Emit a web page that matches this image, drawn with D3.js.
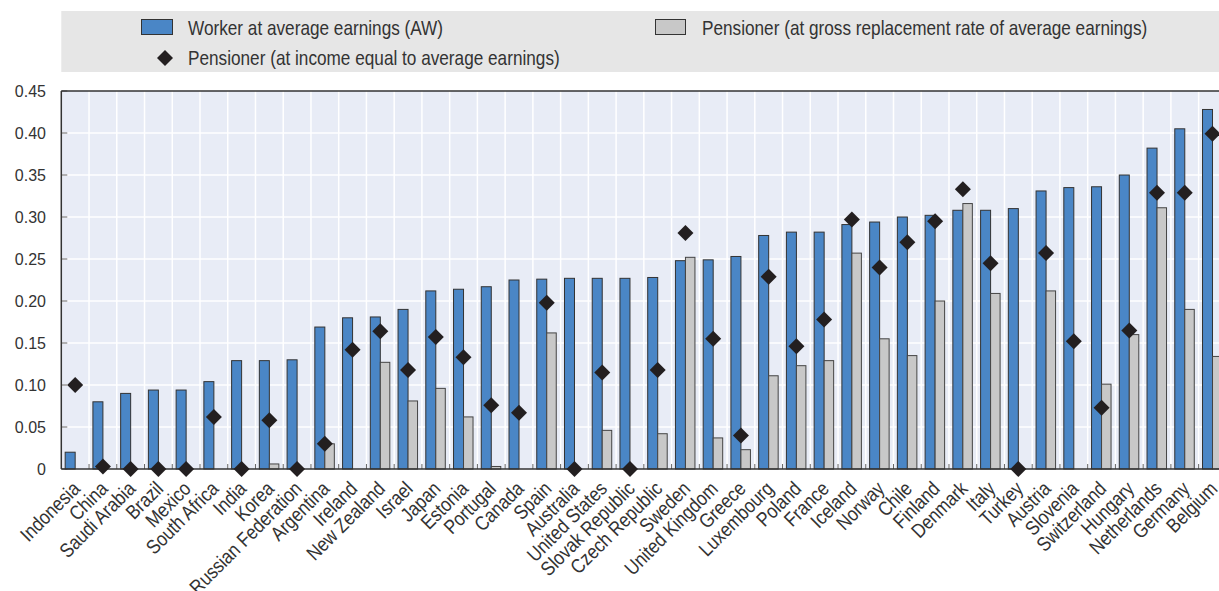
<!DOCTYPE html>
<html>
<head>
<meta charset="utf-8">
<script src="https://cdn.jsdelivr.net/npm/d3@7"></script>
<style>
  body { margin: 0; background: #fff; }
  svg text { fill: #333; }
</style>
</head>
<body>
<div class="chart"></div>
<script>
// chart data
var countries = ["Indonesia", "China", "Saudi Arabia", "Brazil", "Mexico", "South Africa", "India", "Korea",
  "Russian Federation", "Argentina", "Ireland", "New Zealand", "Israel", "Japan", "Estonia", "Portugal",
  "Canada", "Spain", "Australia", "United States", "Slovak Republic", "Czech Republic", "Sweden",
  "United Kingdom", "Greece", "Luxembourg", "Poland", "France", "Iceland", "Norway", "Chile", "Finland",
  "Denmark", "Italy", "Turkey", "Austria", "Slovenia", "Switzerland", "Hungary", "Netherlands", "Germany", "Belgium"];

var worker = [0.020, 0.080, 0.090, 0.094, 0.094, 0.104, 0.129, 0.129, 0.130, 0.169, 0.180, 0.181, 0.190,
  0.212, 0.214, 0.217, 0.225, 0.226, 0.227, 0.227, 0.227, 0.228, 0.248, 0.249, 0.253, 0.278, 0.282, 0.282,
  0.291, 0.294, 0.300, 0.302, 0.308, 0.308, 0.310, 0.331, 0.335, 0.336, 0.350, 0.382, 0.405, 0.428];

var pensionerGross = [0, 0, 0, 0, 0, 0, 0, 0.006, 0, 0.030, 0, 0.127, 0.081, 0.096, 0.062, 0.003, 0, 0.162,
  0, 0.046, 0, 0.042, 0.252, 0.037, 0.023, 0.111, 0.123, 0.129, 0.257, 0.155, 0.135, 0.200, 0.316, 0.209,
  0, 0.212, 0, 0.101, 0.160, 0.311, 0.190, 0.134];

var pensionerAW = [0.100, 0.003, 0, 0, 0, 0.062, 0, 0.058, 0, 0.030, 0.142, 0.164, 0.118, 0.157, 0.133,
  0.076, 0.067, 0.198, 0, 0.115, 0, 0.118, 0.281, 0.155, 0.040, 0.229, 0.146, 0.178, 0.297, 0.240, 0.270,
  0.295, 0.333, 0.245, 0, 0.257, 0.152, 0.073, 0.165, 0.329, 0.329, 0.399];

var yTicks = [0, 0.05, 0.10, 0.15, 0.20, 0.25, 0.30, 0.35, 0.40, 0.45];

var legendItems = ["Worker at average earnings (AW)",
  "Pensioner (at gross replacement rate of average earnings)",
  "Pensioner (at income equal to average earnings)"];

var W = 1219, H = 591;
var plotLeft = 61.3, step = 27.74, plotTop = 91, plotBottom = 469;
var blue = "#4a86c6", grey = "#c8c8c8", dark = "#231f20";
var font = "'Liberation Sans', Arial, sans-serif";
var squeeze = 0.86; // the original font is a condensed one

var svg = d3.select(".chart").append("svg")
    .attr("width", W)
    .attr("height", H);

var x = d3.scaleBand()
    .domain(countries)
    .range([plotLeft, plotLeft + step * countries.length])
    .paddingInner(0).paddingOuter(0);

var y = d3.scaleLinear()
    .domain([0, 0.45])
    .range([plotBottom, plotTop]);

function condensedText(g, tx, ty, txt) {
  return g.append("text")
    .attr("transform", "translate(" + tx + "," + ty + ") scale(" + squeeze + ",1)")
    .style("font-family", font).style("font-size", "20px")
    .text(txt);
}

// legend box
var lg = svg.append("g").attr("class", "legend");
lg.append("rect")
    .attr("x", plotLeft).attr("y", 11)
    .attr("width", W - plotLeft).attr("height", 61)
    .attr("fill", "#e6e6e6");
lg.append("rect").attr("x", 141.5).attr("y", 19.5).attr("width", 31).attr("height", 15)
    .attr("fill", blue).attr("stroke", "#333");
condensedText(lg, 188, 35, legendItems[0]);
lg.append("rect").attr("x", 655.5).attr("y", 19.5).attr("width", 30).attr("height", 15)
    .attr("fill", grey).attr("stroke", "#333");
condensedText(lg, 702, 35, legendItems[1]);
lg.append("path").attr("d", "M0,-8L8,0L0,8L-8,0Z")
    .attr("transform", "translate(165,58)").attr("fill", dark);
condensedText(lg, 188, 65, legendItems[2]);

// plot background
svg.append("rect")
    .attr("x", plotLeft).attr("y", plotTop)
    .attr("width", W - plotLeft).attr("height", plotBottom - plotTop)
    .attr("fill", "#e8ecf6");

// white grid
var grid = svg.append("g").attr("class", "grid");
grid.selectAll(".hgrid")
    .data(yTicks.filter(function(d) { return d > 0 && d < 0.45; }))
  .enter().append("line")
    .attr("x1", plotLeft).attr("x2", W)
    .attr("y1", function(d) { return y(d); })
    .attr("y2", function(d) { return y(d); })
    .attr("stroke", "#fff").attr("stroke-width", 1.5);
grid.selectAll(".vgrid")
    .data(countries.slice(1))
  .enter().append("line")
    .attr("x1", function(d) { return x(d); })
    .attr("x2", function(d) { return x(d); })
    .attr("y1", plotTop).attr("y2", plotBottom)
    .attr("stroke", "#fff").attr("stroke-width", 1.5);

// small ticks at the bottom, inside the plot
svg.append("g").selectAll("line")
    .data(countries.slice(1))
  .enter().append("line")
    .attr("x1", function(d) { return x(d); })
    .attr("x2", function(d) { return x(d); })
    .attr("y1", plotBottom - 5).attr("y2", plotBottom)
    .attr("stroke", "#666").attr("stroke-width", 1);

// y axis ticks inside
svg.append("g").selectAll("line")
    .data(yTicks)
  .enter().append("line")
    .attr("x1", plotLeft).attr("x2", plotLeft + 6)
    .attr("y1", function(d) { return y(d); })
    .attr("y2", function(d) { return y(d); })
    .attr("stroke", "#666").attr("stroke-width", 1);

var half = x.bandwidth() / 2;

// bars
var bars = svg.append("g").attr("class", "bars");
bars.selectAll(".worker")
    .data(countries)
  .enter().append("rect")
    .attr("class", "worker")
    .attr("x", function(d) { return x(d) + half - 10; })
    .attr("width", 10)
    .attr("y", function(d, i) { return y(worker[i]); })
    .attr("height", function(d, i) { return y(0) - y(worker[i]); })
    .attr("fill", blue).attr("stroke", "#333").attr("stroke-width", 1);

bars.selectAll(".gross")
    .data(countries.filter(function(d, i) { return pensionerGross[i] > 0; }))
  .enter().append("rect")
    .attr("class", "gross")
    .attr("x", function(d) { return x(d) + half; })
    .attr("width", 9.5)
    .attr("y", function(d) { return y(pensionerGross[countries.indexOf(d)]); })
    .attr("height", function(d) { return y(0) - y(pensionerGross[countries.indexOf(d)]); })
    .attr("fill", grey).attr("stroke", "#444").attr("stroke-width", 1);

// frame: top, left and bottom lines
svg.append("line").attr("x1", plotLeft).attr("x2", W).attr("y1", plotTop).attr("y2", plotTop)
    .attr("stroke", "#333").attr("stroke-width", 1.5);
svg.append("line").attr("x1", plotLeft).attr("x2", plotLeft).attr("y1", plotTop).attr("y2", plotBottom)
    .attr("stroke", "#333").attr("stroke-width", 1.5);
svg.append("line").attr("x1", plotLeft).attr("x2", W).attr("y1", plotBottom).attr("y2", plotBottom)
    .attr("stroke", "#333").attr("stroke-width", 1.5);

// diamonds
svg.append("g").selectAll("path")
    .data(countries)
  .enter().append("path")
    .attr("d", "M0,-8L8,0L0,8L-8,0Z")
    .attr("transform", function(d, i) {
      return "translate(" + (x(d) + half) + "," + y(pensionerAW[i]) + ")";
    })
    .attr("fill", dark);

// y labels
svg.append("g").selectAll("text")
    .data(yTicks)
  .enter().append("text")
    .attr("x", 46).attr("y", function(d) { return y(d); })
    .attr("dy", "0.36em")
    .attr("text-anchor", "end")
    .style("font-family", font).style("font-size", "16px")
    .text(function(d) { return d === 0 ? "0" : d3.format(".2f")(d); });

// country labels, rotated
svg.append("g").selectAll("text")
    .data(countries)
  .enter().append("text")
    .attr("transform", function(d) {
      return "translate(" + (x(d) + half + 6) + "," + (plotBottom + 21) + ") rotate(-45) scale(" + squeeze + ",1)";
    })
    .attr("text-anchor", "end")
    .style("font-family", font).style("font-size", "20px")
    .text(function(d) { return d; });
</script>
</body>
</html>
